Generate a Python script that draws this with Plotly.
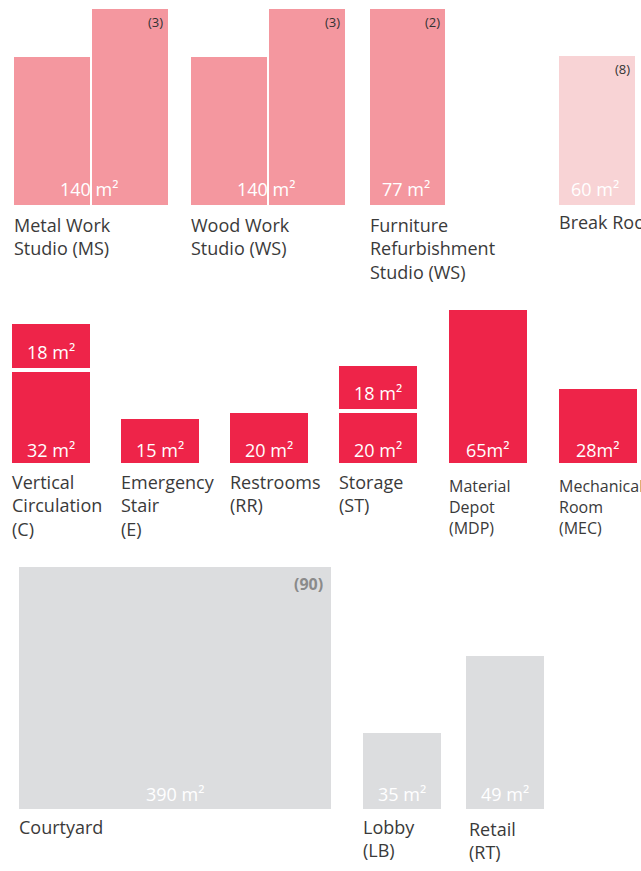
import plotly.graph_objects as go

# ---------------------------------------------------------------- programme data
# Workshop spaces: modules drawn side by side
workshop_rooms = ["Metal Work<br>Studio (MS)", "Wood Work<br>Studio (WS)",
                  "Furniture<br>Refurbishment<br>Studio (WS)", "Break Room"]
workshop_area = ["140 m²", "140 m²", "77 m²", "60 m²"]
workshop_units = ["(3)", "(3)", "(2)", "(8)"]
workshop_modules = [[148, 196], [148, 196], [196], [149]]

# Service spaces: modules stacked bottom to top
service_rooms = ["Vertical<br>Circulation<br>(C)", "Emergency<br>Stair<br>(E)",
                 "Restrooms<br>(RR)", "Storage<br>(ST)",
                 "Material<br>Depot<br>(MDP)", "Mechanical<br>Room<br>(MEC)"]
service_area = [["32 m²", "18 m²"], ["15 m²"], ["20 m²"], ["20 m²", "18 m²"],
                ["65m²"], ["28m²"]]
service_modules = [[91, 44], [44], [50], [50, 43], [153], [74]]

# Public spaces
public_rooms = ["Courtyard", "Lobby<br>(LB)", "Retail<br>(RT)"]
public_area = ["390 m²", "35 m²", "49 m²"]
public_units = ["(90)", "", ""]
public_modules = [[242], [76], [153]]

# ---------------------------------------------------------------- layout / style
W, H = 641, 871
FONT = "Open Sans"
TEXT = "#3a3a3a"
PINK, PINK_LIGHT, RED, GREY = "#F4979F", "#F8D3D5", "#EE2449", "#DCDDDF"

row1 = dict(base=205, left=[14, 191, 370, 559], width=[76, 76, 75, 76], gap=2,
            color=[PINK, PINK, PINK, PINK_LIGHT], label_drop=[6, 6, 6, 3])
row2 = dict(base=463, left=[12, 121, 230, 339, 449, 559], width=78, gap=4,
            small_label=[False, False, False, False, True, True])
row3 = dict(base=809, left=[19, 363, 466], width=[312, 78, 78],
            label_indent=[-2, -2, 1], label_drop=[4, 4, 6])

fig = go.Figure()
annotations = []


def area_label(x, y, text):
    annotations.append(dict(x=x, y=y, text=text, showarrow=False, xanchor="center",
                            yanchor="middle", font=dict(family=FONT, size=18, color="white")))


def name_label(x, y, text, size=18):
    annotations.append(dict(x=x, y=y, text=text, showarrow=False, xanchor="left",
                            yanchor="top", align="left",
                            font=dict(family=FONT, size=size, color=TEXT)))


def unit_label(x, y, text, size=13, color="#333333", bold=False):
    if not text:
        return
    annotations.append(dict(x=x, y=y, text=f"<b>{text}</b>" if bold else text,
                            showarrow=False, xanchor="right", yanchor="middle",
                            font=dict(family=FONT, size=size, color=color)))


def add_bars(xs, widths, bases, depths, colors):
    # reversed y axis: a negative length grows the bar upward from its base
    fig.add_trace(go.Bar(x=xs, y=[-d for d in depths], base=bases, width=widths,
                         marker=dict(color=colors, line=dict(width=0)),
                         hoverinfo="skip", showlegend=False))


# ---- row 1: workshops (side-by-side modules)
xs, ws, bs, ds, cs = [], [], [], [], []
for i, mods in enumerate(workshop_modules):
    left, w = row1["left"][i], row1["width"][i]
    x = left
    for d in mods:
        xs.append(x + w / 2); ws.append(w); bs.append(row1["base"]); ds.append(d)
        cs.append(row1["color"][i])
        x += w + row1["gap"]
    right = x - row1["gap"]
    area_label((left + right) / 2 - 2, row1["base"] - 16, workshop_area[i])
    unit_label(right - 3, row1["base"] - max(mods) + 13, workshop_units[i])
    name_label(left - 2, row1["base"] + row1["label_drop"][i], workshop_rooms[i])
add_bars(xs, ws, bs, ds, cs)

# ---- row 2: services (stacked modules)
xs, ws, bs, ds = [], [], [], []
for i, mods in enumerate(service_modules):
    left, w = row2["left"][i], row2["width"]
    y = row2["base"]
    for j, d in enumerate(mods):
        xs.append(left + w / 2); ws.append(w); bs.append(y); ds.append(d)
        area_label(left + w / 2, y - (13 if j == 0 else 16), service_area[i][j])
        y -= d + row2["gap"]
    if row2["small_label"][i]:
        name_label(left - 2, row2["base"] + 10, service_rooms[i], size=16)
    else:
        name_label(left - 2, row2["base"] + 5, service_rooms[i])
add_bars(xs, ws, bs, ds, RED)

# ---- row 3: public spaces
xs, ws, bs, ds = [], [], [], []
for i, mods in enumerate(public_modules):
    left, w = row3["left"][i], row3["width"][i]
    d = mods[0]
    xs.append(left + w / 2); ws.append(w); bs.append(row3["base"]); ds.append(d)
    area_label(left + w / 2, row3["base"] - 15, public_area[i])
    unit_label(left + w - 6, row3["base"] - d + 17, public_units[i], size=16,
               color="#8a8a8a", bold=True)
    name_label(left + row3["label_indent"][i], row3["base"] + row3["label_drop"][i],
               public_rooms[i])
add_bars(xs, ws, bs, ds, GREY)

fig.update_layout(
    width=W, height=H, margin=dict(l=0, r=0, t=0, b=0),
    paper_bgcolor="white", plot_bgcolor="white",
    barmode="overlay", bargap=0,
    xaxis=dict(range=[0, W], visible=False, fixedrange=True),
    yaxis=dict(range=[H, 0], visible=False, fixedrange=True),
    annotations=annotations,
    showlegend=False,
)

fig.write_html("out.html", config={"displayModeBar": False})
